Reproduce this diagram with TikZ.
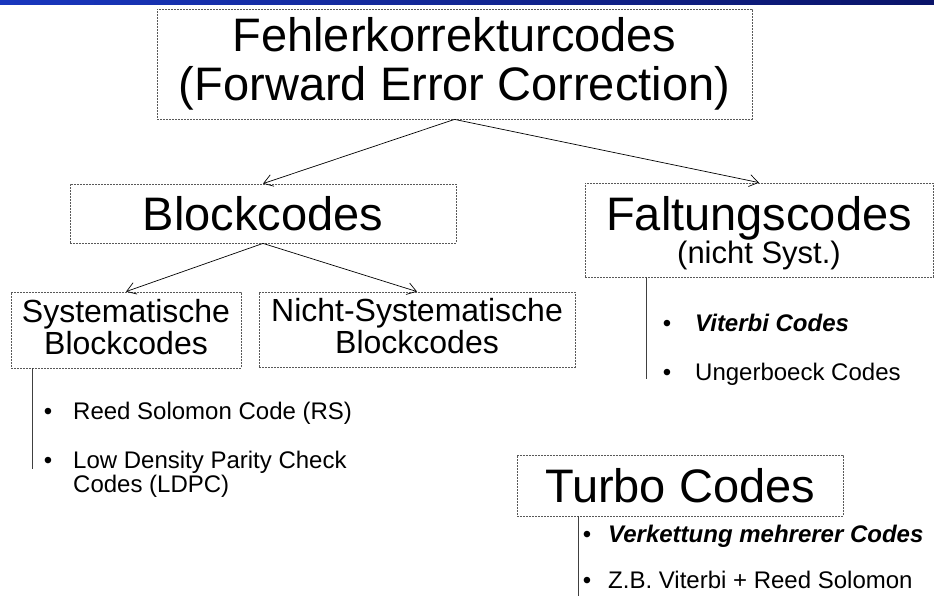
\documentclass[tikz,border=0pt]{standalone}
\usepackage{fontspec}
\setmainfont{Liberation Sans}
\usetikzlibrary{arrows.meta}
\begin{document}
\begin{tikzpicture}[x=1pt,y=-1pt,
  codebox/.style={draw=black!65, dash pattern=on 2pt off 1pt, line width=0.8pt, align=center, inner sep=0pt},
  bigtxt/.style={font=\fontsize{47}{49}\selectfont},
  midtxt/.style={font=\fontsize{32}{32}\selectfont},
  item/.style={anchor=base west, inner sep=0pt, font=\fontsize{24}{24}\selectfont},
  dot/.style={anchor=base, inner sep=0pt, font=\fontsize{24}{24}\selectfont},
  edge/.style={-{Straight Barb[length=9pt,width=12pt]}, line width=0.7pt},
  stem/.style={line width=0.8pt, black!75}]
\useasboundingbox (0,0) rectangle (934,596);
\shade[left color={rgb,255:red,25;green,55;blue,190}, right color={rgb,255:red,10;green,20;blue,105}] (0,0) rectangle (934,5);

% boxes
\node[codebox, bigtxt, minimum width=595, minimum height=110] (fec) at (454.5,64) {Fehlerkorrekturcodes\\(Forward Error Correction)};
\node[codebox, bigtxt, minimum width=386, minimum height=59] (block) at (263,213.5) {Blockcodes};
\node[codebox, bigtxt, minimum width=348, minimum height=94, text height=73, text depth=6.5] (falt) at (759,230) {Faltungscodes\\[-16pt]{\fontsize{31}{32}\selectfont(nicht Syst.)}};
\node[codebox, midtxt, minimum width=230, minimum height=76, text depth=7] (sys) at (126,330) {Systematische\\Blockcodes};
\node[codebox, midtxt, minimum width=316, minimum height=75, text depth=8] (nsys) at (417,329.5) {Nicht-Systematische\\Blockcodes};
\node[codebox, bigtxt, minimum width=326, minimum height=61] (turbo) at (680,485.5) {Turbo Codes};

\draw[edge] (fec.south) -- (block.north);
\draw[edge] (fec.south) -- (falt.north);
\draw[edge] (block.south) -- (sys.north);
\draw[edge] (block.south) -- (nsys.north);

% lists
\coordinate (sysend) at (32,469);
\coordinate (faltend) at (646,379);
\coordinate (turboend) at (578,596);
\draw[stem] (sys.south -| sysend) -- (sysend);
\draw[stem] (falt.south -| faltend) -- (faltend);
\draw[stem] (turbo.south -| turboend) -- (turboend);

\node[dot] (d1) at (48,419) {•};
\node[item] (rs) at (73,419) {Reed Solomon Code (RS)};
\node[dot] (d2) at (48,468) {•};
\node[item, align=left] (ldpc) at (73,492) {Low Density Parity Check\\Codes (LDPC)};

\node[dot] (d3) at (667,331) {•};
\node[item] (vit) at (695,331) {\bfseries\itshape Viterbi Codes};
\node[dot] (d4) at (667,380) {•};
\node[item] (ung) at (695,380) {Ungerboeck Codes};

\node[dot] (d5) at (587,542) {•};
\node[item] (verk) at (608,542) {\bfseries\itshape Verkettung mehrerer Codes};
\node[dot] (d6) at (587,588) {•};
\node[item] (zb) at (608,588) {Z.B. Viterbi + Reed Solomon};
\end{tikzpicture}
\end{document}
